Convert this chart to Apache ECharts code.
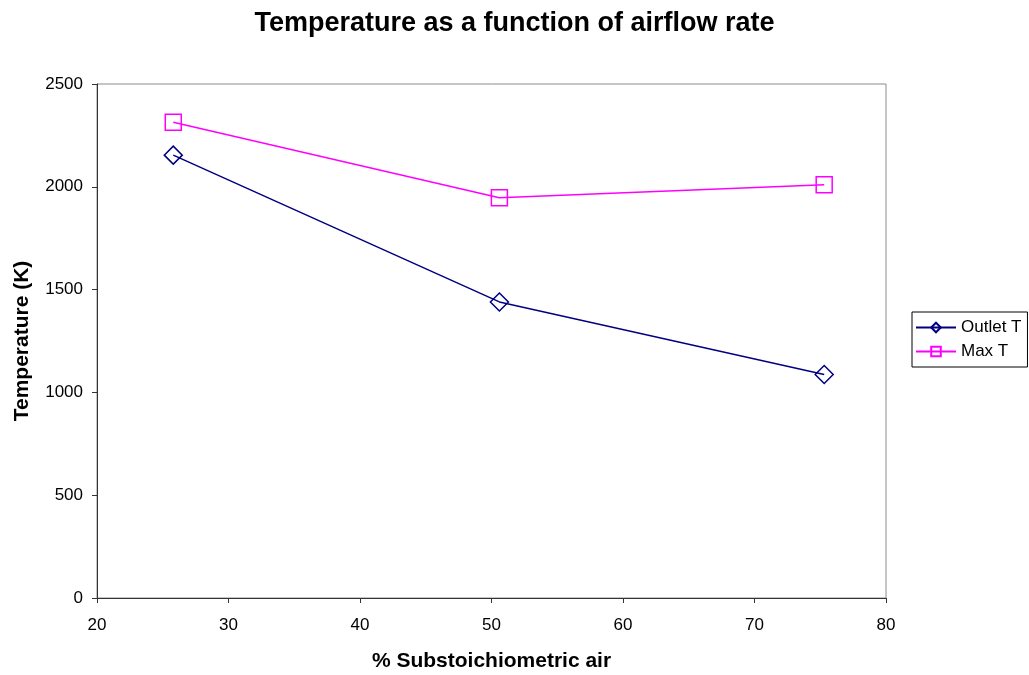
<!DOCTYPE html>
<html>
<head>
<meta charset="utf-8">
<script src="https://cdn.jsdelivr.net/npm/echarts@6/dist/echarts.min.js"></script>
<style>
  html, body { margin: 0; padding: 0; background: #fff; }
  #chart { width: 1029px; height: 675px; }
</style>
</head>
<body>
<div id="chart"></div>
<script>
// Airflow (% substoichiometric air) and measured temperatures in K
const airPercent = [25.8, 50.6, 75.3];
const outletT = [2154, 1440, 1087];
const maxT = [2314, 1947, 2010];

const font = 'Arial, "Liberation Sans", sans-serif';
const chart = echarts.init(document.getElementById('chart'));

function pairs(xs, ys) {
  return xs.map((x, i) => [x, ys[i]]);
}

chart.setOption({
  backgroundColor: '#fff',
  animation: false,
  title: {
    text: 'Temperature as a function of airflow rate',
    left: 'center',
    top: 5,
    textStyle: { fontFamily: font, fontSize: 27, fontWeight: 'bold', color: '#000' }
  },
  grid: {
    left: 97, right: 143, top: 84, bottom: 77,
    outerBoundsMode: 'none',
    containLabel: false,
    show: true, borderColor: '#8c8c8c', borderWidth: 1
  },
  legend: {
    orient: 'vertical',
    left: 912, top: 312,
    padding: [7, 6, 7, 3],
    itemGap: 7,
    itemWidth: 40, itemHeight: 12,
    borderColor: '#000', borderWidth: 1,
    textStyle: { fontFamily: font, fontSize: 17, color: '#000' },
    data: ['Outlet T', 'Max T']
  },
  xAxis: {
    type: 'value',
    min: 20, max: 80, interval: 10,
    name: '% Substoichiometric air',
    nameLocation: 'middle', nameGap: 53,
    nameTextStyle: { fontFamily: font, fontSize: 21, fontWeight: 'bold', color: '#000' },
    axisLine: { lineStyle: { color: '#333', width: 1 } },
    axisTick: { show: true, length: 5, lineStyle: { color: '#333' } },
    axisLabel: { fontFamily: font, fontSize: 17, color: '#000', margin: 19 },
    splitLine: { show: false }
  },
  yAxis: {
    type: 'value',
    min: 0, max: 2500, interval: 500,
    name: 'Temperature (K)',
    nameLocation: 'middle', nameGap: 64,
    nameTextStyle: { fontFamily: font, fontSize: 21, fontWeight: 'bold', color: '#000' },
    axisLine: { show: true, lineStyle: { color: '#333', width: 1 } },
    axisTick: { show: true, length: 5, lineStyle: { color: '#333' } },
    axisLabel: {
      fontFamily: font, fontSize: 17, color: '#000', margin: 14,
      formatter: (v) => String(v)
    },
    splitLine: { show: false }
  },
  series: [
    {
      name: 'Outlet T',
      type: 'line',
      data: pairs(airPercent, outletT),
      symbol: 'diamond',
      symbolSize: 18,
      lineStyle: { color: '#000080', width: 1.5 },
      itemStyle: { color: 'none', borderColor: '#000080', borderWidth: 1.5 },
      emphasis: { disabled: true }
    },
    {
      name: 'Max T',
      type: 'line',
      data: pairs(airPercent, maxT),
      symbol: 'rect',
      symbolSize: 16,
      lineStyle: { color: '#ff00ff', width: 1.5 },
      itemStyle: { color: 'none', borderColor: '#ff00ff', borderWidth: 1.5 },
      emphasis: { disabled: true }
    }
  ]
});
</script>
</body>
</html>
